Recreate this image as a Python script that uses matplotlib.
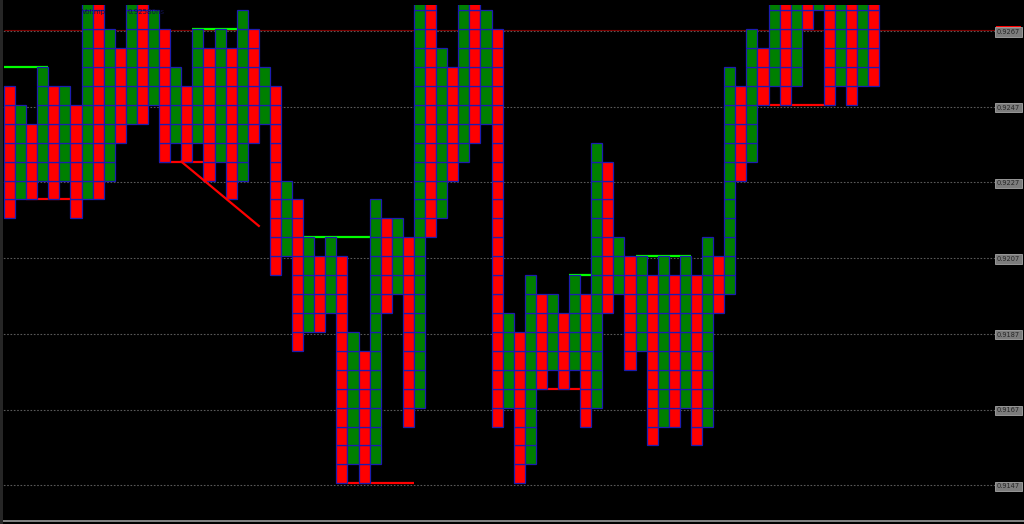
"""Point & figure chart, box 0.0005, dark terminal look."""

from __future__ import annotations

import matplotlib

matplotlib.use("Agg")
import matplotlib.pyplot as plt
import matplotlib.transforms as mtransforms
import numpy as np
from matplotlib.patches import Rectangle

BOX_SIZE = 0.0005
BASE_PRICE = 0.91475
LAST_PRICE = 0.92673

# X = rising column (green), O = falling column (red)
COLUMN_TYPES = list("OXOXOXOXOX" "OXOXOXOXOX" "OXOXOXOXOX" "OXOXOXOXOX"
                    "OXOXOXOXOX" "OXOXOXOXOX" "OXOXOXOXOX" "OXOXOXOXO")
# column extent in boxes above BASE_PRICE
COLUMN_LOW = [14, 15, 15, 16, 15, 16, 14, 15, 15, 16,
              18, 19, 19, 20, 17, 18, 17, 18, 16, 17,
              15, 16, 18, 19, 11, 12, 7, 8, 8, 9,
              0, 1, 0, 1, 9, 10, 3, 4, 13, 14,
              16, 17, 18, 19, 3, 4, 0, 1, 5, 6,
              5, 6, 3, 4, 9, 10, 6, 7, 2, 3,
              3, 4, 2, 3, 9, 10, 16, 17, 20, 21,
              20, 21, 24, 25, 20, 21, 20, 21, 21]
COLUMN_HIGH = [21, 20, 19, 22, 21, 21, 20, 26, 26, 24,
               23, 26, 26, 25, 24, 22, 21, 24, 23, 24,
               23, 25, 24, 22, 21, 16, 15, 13, 12, 13,
               12, 8, 7, 15, 14, 14, 13, 26, 26, 23,
               22, 26, 26, 25, 24, 9, 8, 11, 10, 10,
               9, 11, 10, 18, 17, 13, 12, 12, 11, 12,
               11, 12, 11, 13, 12, 22, 21, 24, 23, 26,
               26, 26, 26, 26, 26, 26, 26, 26, 26]

# horizontal resistance (green) and support (red) lines: first column, end column, box level
RESIST_START = [0, 17, 27, 51, 57]
RESIST_END = [4, 22, 34, 54, 62]
RESIST_LEVEL = [22, 24, 13, 11, 12]
SUPPORT_START = [2, 14, 31, 48, 69]
SUPPORT_END = [6, 18, 37, 52, 75]
SUPPORT_LEVEL = [15, 17, 0, 5, 20]

# falling trend line
TREND_COLUMN = [16, 23]
TREND_LEVEL = [17, 13.6]

GRID_PRICES = [0.9147, 0.9167, 0.9187, 0.9207, 0.9227, 0.9247, 0.9267]
GRID_LABELS = ["0.9147", "0.9167", "0.9187", "0.9207", "0.9227", "0.9247", "0.9267"]

X_COLOR = "#008000"
O_COLOR = "#ff0000"
EDGE_COLOR = "#1c1cb0"

W, H = 1024, 524
PX_PER_COL = 11.08
PX_PER_PRICE = 37850.0


def price(level):
    return BASE_PRICE + np.asarray(level, dtype=float) * BOX_SIZE


def main() -> None:
    fig = plt.figure(figsize=(W / 100, H / 100), dpi=100, facecolor="black")
    ax = fig.add_axes([0, 3 / H, 1, 516 / H])
    ax.set_facecolor("black")

    ax.set_xlim(-4 / PX_PER_COL, (W - 4) / PX_PER_COL)
    ax.set_ylim(0.9147 - (521 - 485.2) / PX_PER_PRICE, 0.9147 + (485.2 - 5) / PX_PER_PRICE)
    grid_end = (995 - 4) / PX_PER_COL

    ax.hlines(GRID_PRICES, ax.get_xlim()[0], grid_end, colors="#5a5a5a",
              linestyles=(0, (1.5, 1.5)), linewidth=0.8, zorder=1)
    ax.hlines(LAST_PRICE, 0, grid_end, colors="#7a0000", linewidth=0.8, zorder=2)

    for start, end, level in zip(RESIST_START, RESIST_END, RESIST_LEVEL):
        ax.plot([start, end], [price(level)] * 2, color="#00ff00", linewidth=1.6,
                solid_capstyle="butt", zorder=2)
    for start, end, level in zip(SUPPORT_START, SUPPORT_END, SUPPORT_LEVEL):
        ax.plot([start, end], [price(level)] * 2, color=O_COLOR, linewidth=1.6,
                solid_capstyle="butt", zorder=2)

    for i, (kind, low, high) in enumerate(zip(COLUMN_TYPES, COLUMN_LOW, COLUMN_HIGH)):
        levels = np.arange(low, high)
        ax.bar(np.full(len(levels), i), BOX_SIZE, bottom=price(levels), width=1,
               align="edge", color=X_COLOR if kind == "X" else O_COLOR,
               edgecolor=EDGE_COLOR, linewidth=0.9, zorder=3)

    ax.plot(TREND_COLUMN, price(TREND_LEVEL), color=O_COLOR, linewidth=1.6, zorder=4)

    # price labels on the right margin; the red marker of the last price peeks out above
    trans = mtransforms.blended_transform_factory(ax.transAxes, ax.transData)
    label_x = 1008.5 / W
    ax.add_patch(Rectangle((996 / W, LAST_PRICE + 0.5 / PX_PER_PRICE), 25 / W,
                           3.5 / PX_PER_PRICE, transform=trans, facecolor=O_COLOR,
                           edgecolor="none", zorder=5, clip_on=False))
    for p, label in zip(GRID_PRICES, GRID_LABELS):
        ax.text(label_x, p - 1 / PX_PER_PRICE, label, transform=trans, ha="center",
                va="center", fontsize=4.8, color="#262626",
                bbox=dict(boxstyle="square,pad=0.25", facecolor="#7c7c7c",
                          edgecolor="#a5a5a5", linewidth=0.6),
                zorder=6, clip_on=False)

    for side in ("top", "right", "left"):
        ax.spines[side].set_visible(False)
    ax.spines["bottom"].set_color("#9a9a9a")
    ax.spines["bottom"].set_linewidth(1.2)
    ax.set_xticks([])
    ax.set_yticks([])

    fig.add_artist(Rectangle((0, 0), 3 / W, 1, transform=fig.transFigure,
                             facecolor="#262626", edgecolor="none"))
    fig.text(82 / W, 1 - 12 / H, "Vol:mp", fontsize=5, color="#10104a", va="center", zorder=10)
    fig.text(127 / W, 1 - 12 / H, "0.92580ns", fontsize=5, color="#10104a", va="center", zorder=10)

    fig.savefig("out.png", dpi=100, facecolor="black")
    plt.close(fig)


if __name__ == "__main__":
    main()
